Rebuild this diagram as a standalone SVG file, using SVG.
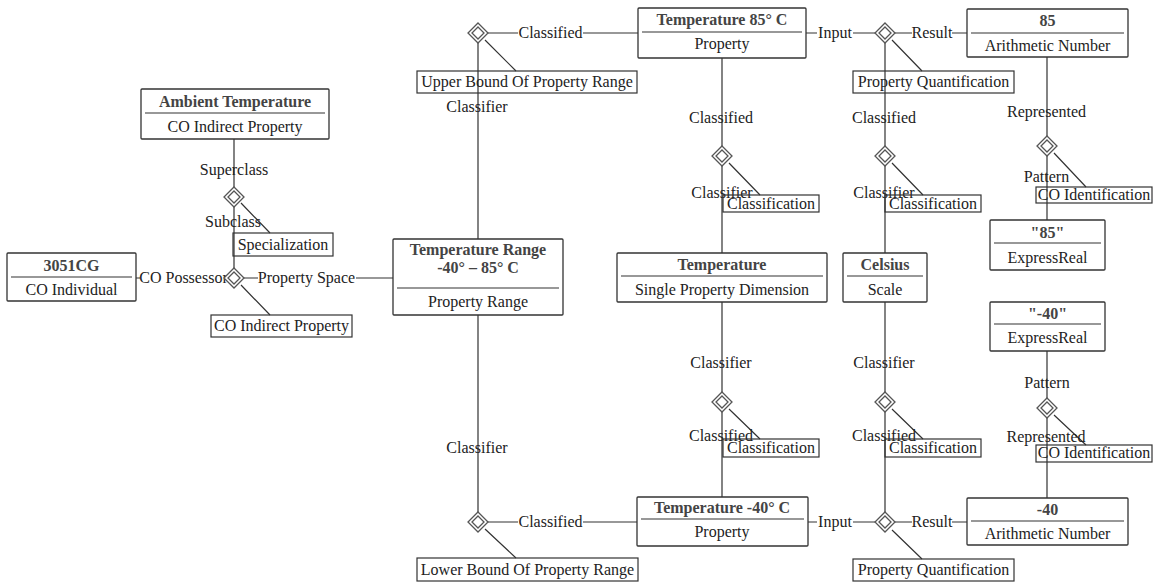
<svg xmlns="http://www.w3.org/2000/svg" width="1158" height="583" viewBox="0 0 1158 583">
<defs>
<style>
text{font-family:"Liberation Serif","Times New Roman",serif;font-size:16px;fill:#222;text-anchor:middle}
.t{font-weight:bold;fill:#444}
.box{fill:none;stroke:#333;stroke-width:1.3}
.div{stroke:#333;stroke-width:1.2}
.ln{stroke:#333;stroke-width:1.2;fill:none}
.rb{fill:none;stroke:#333;stroke-width:1.2}
</style>
<g id="dm">
<polygon points="0,-10 10,0 0,10 -10,0" fill="#fff" stroke="#555" stroke-width="1.3"/>
<polygon points="0,-6 6,0 0,6 -6,0" fill="none" stroke="#555" stroke-width="1.3"/>
</g>
</defs>
<rect width="1158" height="583" fill="#fff"/>

<g id="connectors">
<!-- left cluster -->
<path class="ln" d="M234,139V187M234,207V268M136,278H140M244,278H258M356,278H393"/>
<path class="ln" d="M241,203L270,233M241,285L270,315"/>
<!-- top row -->
<path class="ln" d="M488,33H518M583,33H638M806,33H817M853,33H875M895,33H912M952,33H967"/>
<path class="ln" d="M485,40L516,71M892,40L922,71"/>
<!-- left vertical -->
<path class="ln" d="M478,43V239M478,315V512"/>
<!-- middle vertical -->
<path class="ln" d="M722,58V146M722,166V253M722,302V392M722,412V497"/>
<path class="ln" d="M729,163L760,195M729,409L760,439"/>
<!-- right vertical -->
<path class="ln" d="M885,43V146M885,166V253M885,302V392M885,412V512"/>
<path class="ln" d="M892,163L923,195M892,409L923,439"/>
<!-- far right vertical -->
<path class="ln" d="M1047,57V136M1047,156V220M1047,351V398M1047,418V498"/>
<path class="ln" d="M1054,153L1086,187M1054,415L1086,445"/>
<!-- bottom row -->
<path class="ln" d="M488,522H518M583,522H637M808,522H817M853,522H875M895,522H912M952,522H967"/>
<path class="ln" d="M485,529L516,558M892,530L922,559"/>

<text x="234" y="175">Superclass</text>
<text x="233" y="227">Subclass</text>
<text x="183.5" y="283">CO Possessor</text>
<text x="306.5" y="283">Property Space</text>
<text x="550.5" y="38">Classified</text>
<text x="835" y="38">Input</text>
<text x="932" y="38">Result</text>
<text x="477" y="112">Classifier</text>
<text x="721" y="123">Classified</text>
<text x="722" y="198">Classifier</text>
<text x="884" y="123">Classified</text>
<text x="884" y="198">Classifier</text>
<text x="1046.5" y="117">Represented</text>
<text x="1046.5" y="182">Pattern</text>
<text x="721" y="368">Classifier</text>
<text x="884" y="368">Classifier</text>
<text x="721" y="441">Classified</text>
<text x="884" y="441">Classified</text>
<text x="1047" y="388">Pattern</text>
<text x="1046" y="442">Represented</text>
<text x="477" y="453">Classifier</text>
<text x="550.5" y="527">Classified</text>
<text x="835" y="527">Input</text>
<text x="932" y="527">Result</text>
</g>

<g id="relations">
<use href="#dm" x="234" y="197"/>
<use href="#dm" x="234" y="278"/>
<use href="#dm" x="478" y="33"/>
<use href="#dm" x="885" y="33"/>
<use href="#dm" x="722" y="156"/>
<use href="#dm" x="885" y="156"/>
<use href="#dm" x="1047" y="146"/>
<use href="#dm" x="722" y="402"/>
<use href="#dm" x="885" y="402"/>
<use href="#dm" x="1047" y="408"/>
<use href="#dm" x="478" y="522"/>
<use href="#dm" x="885" y="522"/>
</g>

<g id="rel-specialization"><rect class="rb" x="233" y="233" width="100" height="23"/><text x="283" y="250">Specialization</text></g>
<g id="rel-co-indirect"><rect class="rb" x="211" y="315" width="141" height="22"/><text x="281.5" y="331">CO Indirect Property</text></g>
<g id="rel-upper"><rect class="rb" x="417" y="71" width="220" height="22"/><text x="527" y="87">Upper Bound Of Property Range</text></g>
<g id="rel-pq-top"><rect class="rb" x="853" y="71" width="161" height="22"/><text x="933.5" y="87">Property Quantification</text></g>
<g id="rel-class1"><rect class="rb" x="723" y="195" width="96" height="17"/><text x="771" y="209">Classification</text></g>
<g id="rel-class2"><rect class="rb" x="885" y="195" width="96" height="17"/><text x="933" y="209">Classification</text></g>
<g id="rel-coid-top"><rect class="rb" x="1036" y="187" width="116" height="16"/><text x="1094" y="200">CO Identification</text></g>
<g id="rel-class3"><rect class="rb" x="723" y="439" width="96" height="18"/><text x="771" y="453">Classification</text></g>
<g id="rel-class4"><rect class="rb" x="885" y="439" width="96" height="18"/><text x="933" y="453">Classification</text></g>
<g id="rel-coid-bot"><rect class="rb" x="1036" y="445" width="116" height="17"/><text x="1094" y="458">CO Identification</text></g>
<g id="rel-lower"><rect class="rb" x="417" y="558" width="221" height="23"/><text x="527.5" y="575">Lower Bound Of Property Range</text></g>
<g id="rel-pq-bot"><rect class="rb" x="853" y="559" width="161" height="22"/><text x="933.5" y="575">Property Quantification</text></g>

<g id="n-ambient"><rect class="box" x="141" y="89" width="188" height="50" rx="1"/><line class="div" x1="145" y1="113" x2="325" y2="113"/><text class="t" x="235" y="107">Ambient Temperature</text><text x="235" y="132">CO Indirect Property</text></g>
<g id="n-3051cg"><rect class="box" x="7" y="253" width="129" height="48" rx="1"/><line class="div" x1="11" y1="277" x2="132" y2="277"/><text class="t" x="71.5" y="271">3051CG</text><text x="71.5" y="295">CO Individual</text></g>
<g id="n-range"><rect class="box" x="393" y="239" width="170" height="76" rx="1"/><line class="div" x1="397" y1="288" x2="559" y2="288"/><text class="t" x="478" y="255">Temperature Range</text><text class="t" x="478" y="273">-40° – 85° C</text><text x="478" y="307">Property Range</text></g>
<g id="n-t85"><rect class="box" x="638" y="8" width="168" height="50" rx="1"/><line class="div" x1="642" y1="32" x2="802" y2="32"/><text class="t" x="722" y="25">Temperature 85° C</text><text x="722" y="49">Property</text></g>
<g id="n-85"><rect class="box" x="967" y="9" width="161" height="48" rx="1"/><line class="div" x1="971" y1="33" x2="1124" y2="33"/><text class="t" x="1047.5" y="26">85</text><text x="1047.5" y="51">Arithmetic Number</text></g>
<g id="n-s85"><rect class="box" x="990" y="220" width="115" height="50" rx="1"/><line class="div" x1="994" y1="243" x2="1101" y2="243"/><text class="t" x="1047.5" y="238">"85"</text><text x="1047.5" y="263">ExpressReal</text></g>
<g id="n-temp"><rect class="box" x="617" y="253" width="210" height="49" rx="1"/><line class="div" x1="621" y1="276" x2="823" y2="276"/><text class="t" x="722" y="270">Temperature</text><text x="722" y="295">Single Property Dimension</text></g>
<g id="n-celsius"><rect class="box" x="843" y="253" width="84" height="49" rx="1"/><line class="div" x1="847" y1="276" x2="923" y2="276"/><text class="t" x="885" y="270">Celsius</text><text x="885" y="295">Scale</text></g>
<g id="n-s40"><rect class="box" x="990" y="302" width="115" height="49" rx="1"/><line class="div" x1="994" y1="324" x2="1101" y2="324"/><text class="t" x="1047.5" y="319">"-40"</text><text x="1047.5" y="343">ExpressReal</text></g>
<g id="n-tm40"><rect class="box" x="637" y="497" width="171" height="49" rx="1"/><line class="div" x1="641" y1="519" x2="804" y2="519"/><text class="t" x="722" y="513">Temperature -40° C</text><text x="722" y="537">Property</text></g>
<g id="n-m40"><rect class="box" x="967" y="498" width="161" height="47" rx="1"/><line class="div" x1="971" y1="521" x2="1124" y2="521"/><text class="t" x="1047.5" y="515">-40</text><text x="1047.5" y="539">Arithmetic Number</text></g>
</svg>
